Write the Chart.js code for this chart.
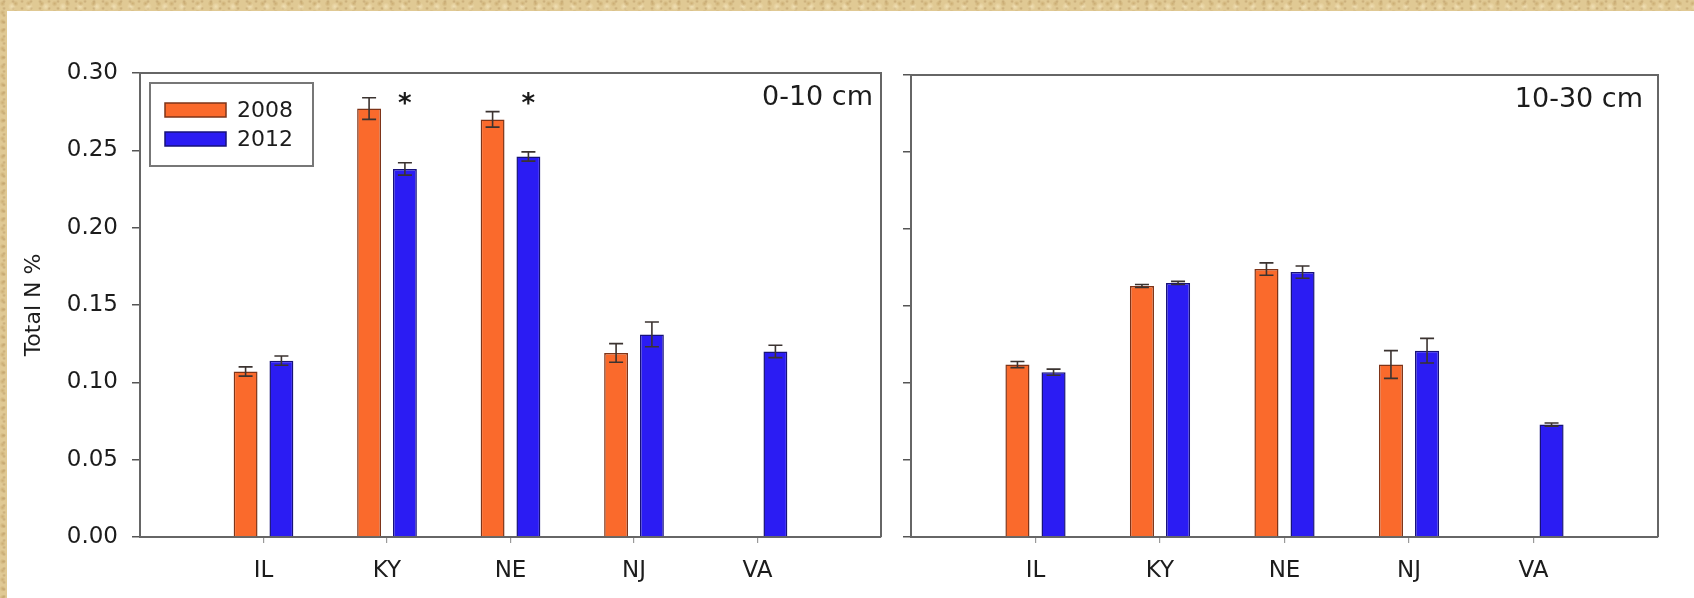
<!DOCTYPE html>
<html lang="en">
<head>
  <meta charset="UTF-8" />
  <title>Total N % by site, 2008 vs 2012</title>
  <script src="https://cdn.jsdelivr.net/npm/chart.js"></script>
  <style>
    body {
      margin: 0;
      width: 1694px;
      height: 598px;
      background: #ffffff;
      position: relative;
      overflow: hidden;
      font-family: 'DejaVu Sans', sans-serif;
    }

    .parchment {
      position: absolute;
      background-color: #e0c994;
      background-image:
        radial-gradient(circle at 20% 40%, rgba(185, 150, 90, 0.55) 0, transparent 3px),
        radial-gradient(circle at 70% 60%, rgba(245, 230, 190, 0.75) 0, transparent 4px),
        radial-gradient(circle at 45% 20%, rgba(165, 130, 80, 0.45) 0, transparent 2px);
      background-size: 13px 9px, 17px 11px, 9px 7px;
    }

    #topStrip { left: 0; top: 0; width: 1694px; height: 11px; }
    #leftStrip { left: 0; top: 0; width: 7px; height: 598px; }

    canvas {
      position: absolute;
      top: 0;
    }

    #leftPanel { left: 0; }
    #rightPanel { left: 890px; }
  </style>
</head>
<body>
  <div class="parchment" id="topStrip"></div>
  <div class="parchment" id="leftStrip"></div>

  <canvas id="leftPanel" width="895" height="598"></canvas>
  <canvas id="rightPanel" width="804" height="598"></canvas>

  <script>
    // sites along the x axis
    const sites = ['IL', 'KY', 'NE', 'NJ', 'VA'];
    const seriesNames = ['2008', '2012'];
    const yTicks = [0, 0.05, 0.10, 0.15, 0.20, 0.25, 0.30];

    // 0-10 cm depth
    const top2008 = [0.107, 0.277, 0.270, 0.119, null];
    const top2008Err = [0.003, 0.007, 0.005, 0.006, null];
    const top2012 = [0.114, 0.238, 0.246, 0.131, 0.120];
    const top2012Err = [0.003, 0.004, 0.003, 0.008, 0.004];

    // 10-30 cm depth
    const sub2008 = [0.112, 0.163, 0.174, 0.112, null];
    const sub2008Err = [0.002, 0.001, 0.004, 0.009, null];
    const sub2012 = [0.107, 0.165, 0.172, 0.121, 0.073];
    const sub2012Err = [0.002, 0.001, 0.004, 0.008, 0.001];

    // significance stars (0-10 cm only)
    const starSites = ['KY', 'NE'];
    const starSeries = [1, 1];
    const starLevel = [0.283, 0.283];

    const orange = '#fa6a2c';
    const orangeEdge = '#7e3418';
    const blue = '#2b1cf3';
    const blueEdge = '#17127a';
    const frameColor = '#666666';
    const textColor = '#1c1c1c';

    // blank slots either side of the sites, like the original axis range
    const pad = arr => [null, ...arr, null];
    const paddedSites = ['', ...sites, ''];

    const panelPlugin = {
      id: 'panelExtras',
      afterDatasetsDraw(chart, args, opts) {
        const ctx = chart.ctx;
        const area = chart.chartArea;
        const yScale = chart.scales.y;

        ctx.save();

        // error bars
        chart.data.datasets.forEach((ds, i) => {
          const meta = chart.getDatasetMeta(i);
          meta.data.forEach((bar, j) => {
            const v = ds.data[j];
            const e = ds.errors[j];
            if (v == null || e == null) return;
            const yHi = yScale.getPixelForValue(v + e);
            const yLo = yScale.getPixelForValue(v - e);
            const cap = 7;
            ctx.strokeStyle = '#3b3330';
            ctx.lineWidth = 1.6;
            ctx.beginPath();
            ctx.moveTo(bar.x, yHi); ctx.lineTo(bar.x, yLo);
            ctx.moveTo(bar.x - cap, yHi); ctx.lineTo(bar.x + cap, yHi);
            ctx.moveTo(bar.x - cap, yLo); ctx.lineTo(bar.x + cap, yLo);
            ctx.stroke();
          });
        });

        // stars
        (opts.stars || []).forEach(s => {
          const idx = paddedSites.indexOf(s.site);
          const bar = chart.getDatasetMeta(s.series).data[idx];
          ctx.fillStyle = '#1a1a1a';
          ctx.font = 'bold 26px "DejaVu Sans"';
          ctx.textAlign = 'center';
          ctx.textBaseline = 'middle';
          ctx.fillText('*', bar.x, yScale.getPixelForValue(s.y) + 6);
        });

        // frame top & right
        ctx.strokeStyle = frameColor;
        ctx.lineWidth = 2;
        ctx.beginPath();
        ctx.moveTo(area.left, area.top);
        ctx.lineTo(area.right, area.top);
        ctx.lineTo(area.right, area.bottom);
        ctx.stroke();

        // depth label
        ctx.fillStyle = textColor;
        ctx.font = '27px "DejaVu Sans"';
        ctx.textAlign = 'right';
        ctx.textBaseline = 'middle';
        ctx.fillText(opts.label, area.right - opts.labelInset, area.top + 25);

        // legend box
        if (opts.legend) {
          const lx = area.left + 10, ly = area.top + 10;
          ctx.strokeStyle = '#777777';
          ctx.lineWidth = 2;
          ctx.strokeRect(lx, ly, 163, 83);
          chart.data.datasets.forEach((ds, i) => {
            const sy = ly + 20 + i * 29;
            ctx.fillStyle = ds.backgroundColor;
            ctx.strokeStyle = ds.borderColor;
            ctx.lineWidth = 1.5;
            ctx.fillRect(lx + 15, sy, 61, 14);
            ctx.strokeRect(lx + 15, sy, 61, 14);
            ctx.fillStyle = textColor;
            ctx.font = '22px "DejaVu Sans"';
            ctx.textAlign = 'left';
            ctx.textBaseline = 'middle';
            ctx.fillText(ds.label, lx + 87, sy + 8);
          });
        }

        ctx.restore();
      }
    };

    function makePanel(canvasId, d2008, e2008, d2012, e2012, cfg) {
      const ctx = document.getElementById(canvasId).getContext('2d');
      return new Chart(ctx, {
        type: 'bar',
        data: {
          labels: paddedSites,
          datasets: [
            {
              label: seriesNames[0],
              data: pad(d2008),
              errors: pad(e2008),
              backgroundColor: orange,
              borderColor: orangeEdge,
              borderWidth: 1.5,
              borderSkipped: 'bottom',
              categoryPercentage: 0.58,
              barPercentage: 0.667
            },
            {
              label: seriesNames[1],
              data: pad(d2012),
              errors: pad(e2012),
              backgroundColor: blue,
              borderColor: blueEdge,
              borderWidth: 1.5,
              borderSkipped: 'bottom',
              categoryPercentage: 0.58,
              barPercentage: 0.667
            }
          ]
        },
        options: {
          responsive: false,
          animation: false,
          devicePixelRatio: 1,
          layout: { padding: { top: cfg.top, right: cfg.right, left: 0, bottom: 0 } },
          plugins: {
            legend: { display: false },
            tooltip: { enabled: false },
            panelExtras: cfg.extras
          },
          scales: {
            x: {
              offset: false,
              grid: {
                offset: false,
                drawOnChartArea: false,
                tickLength: 6,
                // no tick marks on the blank end slots
                color: c => (paddedSites[c.index] ? '#9a9a9a' : 'rgba(0,0,0,0)'),
                lineWidth: 1.2
              },
              border: { display: true, color: frameColor, width: 2 },
              ticks: {
                color: textColor,
                font: { family: 'DejaVu Sans', size: 23 },
                padding: 14,
                maxRotation: 0,
                autoSkip: false
              },
              afterFit: s => { s.height = 61; }
            },
            y: {
              min: 0,
              max: 0.3,
              afterBuildTicks: s => { s.ticks = yTicks.map(v => ({ value: v })); },
              grid: {
                drawOnChartArea: false,
                tickLength: 8,
                color: '#555555',
                lineWidth: 1.5
              },
              border: { display: true, color: frameColor, width: 2 },
              ticks: {
                display: cfg.showLabels,
                color: textColor,
                font: { family: 'DejaVu Sans', size: 23 },
                padding: 14,
                callback: v => v.toFixed(2)
              },
              title: {
                display: cfg.showLabels,
                text: 'Total N %',
                color: textColor,
                font: { family: 'DejaVu Sans', size: 22 },
                padding: { top: 21, bottom: 0 }
              },
              afterFit: s => { s.width = cfg.axisWidth; }
            }
          }
        },
        plugins: [panelPlugin]
      });
    }

    makePanel('leftPanel', top2008, top2008Err, top2012, top2012Err, {
      top: 73, right: 10, axisWidth: 140, showLabels: true,
      extras: {
        label: '0-10 cm', labelInset: 8, legend: true,
        stars: starSites.map((s, i) => ({ site: s, series: starSeries[i], y: starLevel[i] }))
      }
    });

    makePanel('rightPanel', sub2008, sub2008Err, sub2012, sub2012Err, {
      top: 75, right: 36, axisWidth: 21, showLabels: false,
      extras: { label: '10-30 cm', labelInset: 15, legend: false, stars: [] }
    });
  </script>
</body>
</html>
